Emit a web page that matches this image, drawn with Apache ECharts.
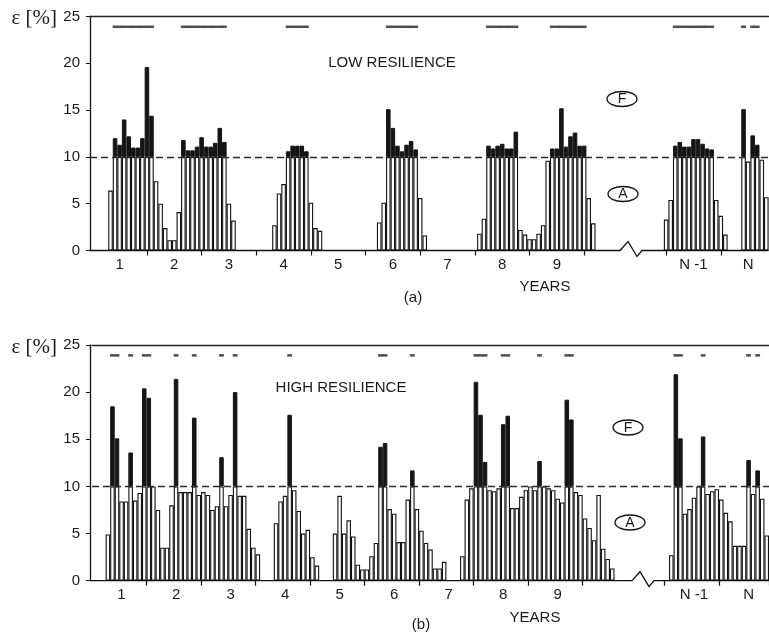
<!DOCTYPE html>
<html>
<head>
<meta charset="utf-8">
<title>Strain, low and high resilience</title>
<script src="https://cdn.jsdelivr.net/npm/echarts@6/dist/echarts.min.js"></script>
<style>
  html, body { margin: 0; padding: 0; background: #fff; overflow: hidden; }
  #chart { width: 769px; height: 636px; }
</style>
</head>
<body>
<div id="chart"></div>
<script>
// x axis = months: years 1..9, a break, then years N-1 and N
const monthCount = 149;
const yearLabels = ['1', '2', '3', '4', '5', '6', '7', '8', '9', 'N -1', 'N'];
const yearStarts = [0, 12, 24, 36, 48, 60, 72, 84, 96, 126, 138];
const yearTicks = [12, 24, 36, 48, 60, 72, 84, 96, 108, 126, 138];
const yTicks = [0, 25, 5]; // min, max, step
const threshold = 10;      // ε limit, above it the bar is black
const failLevel = 23.9;    // failure periods are marked at the top

// (a) low resilience: runs of monthly ε [%] and the month each run starts on
const lowStarts = [4, 40, 63, 85, 126, 143];
const low1 = [6.4, 12.0, 11.3, 14.0, 12.2, 11.0, 11.0, 12.0, 19.6, 14.4, 7.4, 5.0, 2.4, 1.1, 1.1,
  4.1, 11.8, 10.7, 10.7, 11.1, 12.1, 11.1, 11.1, 11.5, 13.1, 11.6, 5.0, 3.2];
const low2 = [2.7, 6.1, 7.1, 10.6, 11.2, 11.2, 11.2, 10.6, 5.1, 2.4, 2.1];
const low3 = [3.0, 5.1, 15.1, 13.1, 11.2, 10.6, 11.3, 11.7, 10.8, 5.6, 1.6];
const low4 = [1.8, 3.4, 11.2, 10.9, 11.2, 11.4, 10.9, 10.9, 12.7, 2.2, 1.7, 1.2, 1.2, 1.8, 2.7,
  9.6, 10.9, 10.9, 15.2, 11.1, 12.2, 12.6, 11.2, 11.2, 5.6, 2.9];
const low5 = [3.3, 5.4, 11.2, 11.6, 11.1, 11.1, 11.9, 11.9, 11.4, 10.9, 10.8, 5.4, 3.7, 1.7];
const low6 = [15.1, 9.5, 12.3, 11.3, 9.7, 5.7];

// (b) high resilience
const highStarts = [3, 40, 53, 81, 127];
const high1 = [4.9, 18.5, 15.1, 8.4, 8.4, 13.6, 8.5, 9.3, 20.4, 19.4, 10.0, 7.5, 3.5, 3.5, 8.0,
  21.4, 9.4, 9.4, 9.4, 17.3, 9.1, 9.4, 9.1, 7.5, 7.9, 13.1, 7.9, 9.1, 20.0, 9.0, 9.0, 5.5, 3.5, 2.8];
const high2 = [6.1, 8.4, 9.0, 17.6, 9.6, 7.4, 5.0, 5.4, 2.5, 1.6];
const high3 = [5.0, 9.0, 5.0, 6.4, 4.7, 1.7, 1.2, 1.2, 2.6, 4.0, 14.2, 14.6, 7.6, 7.1, 4.1, 4.1,
  8.6, 11.7, 7.6, 5.3, 4.0, 3.3, 1.3, 1.3, 2.0];
const high4 = [2.6, 8.6, 9.8, 21.1, 17.6, 12.6, 9.6, 9.5, 9.8, 16.6, 17.5, 7.7, 7.7, 8.9, 9.6, 10.0,
  9.6, 12.7, 10.0, 9.8, 9.6, 8.7, 8.3, 19.2, 17.1, 9.4, 9.1, 6.6, 5.6, 4.3, 9.1, 3.4, 2.3, 1.3];
const high5 = [2.7, 21.9, 15.1, 7.1, 7.6, 8.8, 10.0, 15.3, 9.2, 9.5, 9.7, 8.6, 7.2, 6.3, 3.7, 3.7,
  3.7, 12.8, 9.2, 11.7, 8.7, 4.8];

const panels = [
  { starts: lowStarts, runs: [low1, low2, low3, low4, low5, low6],
    grid: { left: 90, top: 16.5, width: 678.6, height: 234 }, yOffset: 0, alignTicks: true,
    title: 'LOW RESILIENCE', titlePos: [392, 63], tag: '(a)', tagPos: [413, 298], yearsPos: [545, 287],
    fPos: [622, 99], aPos: [623, 194], breakX: 620 },
  { starts: highStarts, runs: [high1, high2, high3, high4, high5],
    grid: { left: 92, top: 345, width: 678.6, height: 235.7 }, yOffset: 2, alignTicks: false,
    title: 'HIGH RESILIENCE', titlePos: [341, 388], tag: '(b)', tagPos: [421, 625], yearsPos: [535, 618],
    fPos: [628, 427.5], aPos: [630, 522.5], breakX: 632 }
];

function monthly(starts, runs) {
  const out = new Array(monthCount).fill(null);
  runs.forEach((run, r) => run.forEach((v, i) => { out[starts[r] + i] = v; }));
  return out;
}

const months = Array.from({ length: monthCount }, (_, i) => 'm' + i);
const labelAt = {};
yearStarts.forEach((s, k) => { labelAt[s + 6] = yearLabels[k]; });

const font = 'Liberation Sans, Arial, sans-serif';
const ink = '#111';

const grids = [], xAxes = [], yAxes = [], series = [];
panels.forEach((p, i) => {
  const values = monthly(p.starts, p.runs);
  grids.push(p.grid);
  xAxes.push({
    type: 'category', gridIndex: i, data: months, boundaryGap: true,
    axisLine: { show: false },
    axisTick: {
      show: true, alignWithLabel: p.alignTicks, length: 5,
      interval: (idx) => yearTicks.includes(idx),
      lineStyle: { color: ink, width: 1.2 }
    },
    axisLabel: {
      interval: (idx) => labelAt[idx] !== undefined,
      formatter: (v, idx) => labelAt[idx] || '',
      fontSize: 15, color: '#1a1a1a', fontFamily: font, margin: 7
    },
    splitLine: { show: false }
  });
  // top frame line
  xAxes.push({
    type: 'value', gridIndex: i, position: 'top', min: 0, max: 1,
    axisLine: { show: true, onZero: false, lineStyle: { color: '#222', width: 1.3 } },
    axisTick: { show: false }, axisLabel: { show: false }, splitLine: { show: false }
  });
  yAxes.push({
    type: 'value', gridIndex: i, min: yTicks[0], max: yTicks[1], interval: yTicks[2], offset: p.yOffset,
    axisLine: { show: true, onZero: false, lineStyle: { color: ink, width: 1.3 } },
    axisTick: { show: true, length: 4, lineStyle: { color: ink } },
    axisLabel: { fontSize: 15, color: '#1a1a1a', fontFamily: font, margin: 10 },
    splitLine: { show: false }
  });
  series.push({
    name: 'A', type: 'bar', xAxisIndex: i * 2, yAxisIndex: i, stack: 'eps' + i,
    barCategoryGap: '0%',
    data: values.map(v => v == null ? '-' : Math.min(v, threshold)),
    itemStyle: { color: '#fff', borderColor: ink, borderWidth: 1.1 },
    markLine: {
      silent: true, symbol: ['none', 'none'], label: { show: false },
      lineStyle: { color: '#2a2a2a', type: [7, 4], width: 1.3 },
      data: [{ yAxis: threshold }]
    }
  });
  series.push({
    name: 'F', type: 'bar', xAxisIndex: i * 2, yAxisIndex: i, stack: 'eps' + i,
    barCategoryGap: '0%',
    data: values.map(v => v != null && v > threshold ? +(v - threshold).toFixed(2) : '-'),
    itemStyle: { color: '#151515', borderColor: '#151515', borderWidth: 1 }
  });
  // failure periods shown as short bars at the top
  const fails = [];
  values.forEach((v, m) => { if (v != null && v > threshold) fails.push([m, failLevel]); });
  series.push({
    type: 'scatter', xAxisIndex: i * 2, yAxisIndex: i, silent: true,
    symbol: 'rect', symbolSize: [p.grid.width / monthCount + 0.3, 2.5],
    itemStyle: { color: '#222' },
    data: fails
  });
});

function panelGraphics(p, i) {
  const g = p.grid;
  const y0 = g.top + g.height;
  const x0 = g.left - p.yOffset, x1 = g.left + g.width, b = p.breakX;
  const out = [];
  out.push({
    type: 'polyline', z: 10,
    shape: { points: [[x0, y0], [b, y0], [b + 8, y0 - 9], [b + 17, y0 + 6], [b + 22, y0], [x1, y0]] },
    style: { stroke: ink, lineWidth: 1.3, fill: null }
  });
  const txt = (s, pos, size, fam, align) => ({
    type: 'text', x: pos[0], y: pos[1], z: 10,
    style: { text: s, font: size + 'px ' + fam, fill: '#1a1a1a', align: align || 'center', verticalAlign: 'middle' }
  });
  out.push(txt('ε [%]', [57, g.top + 2], 21, 'Liberation Serif, serif', 'right'));
  out.push(txt(p.title, p.titlePos, 15, font));
  out.push(txt('YEARS', p.yearsPos, 15, font));
  out.push(txt(p.tag, p.tagPos, 15, font));
  [['F', p.fPos], ['A', p.aPos]].forEach(([s, pos]) => {
    out.push({
      type: 'ellipse', z: 10,
      shape: { cx: pos[0], cy: pos[1], rx: 15, ry: 7.5 },
      style: { fill: '#fff', stroke: ink, lineWidth: 1.3 }
    });
    out.push(txt(s, [pos[0], pos[1] + 0.5], 14, font));
  });
  return out;
}

const chart = echarts.init(document.getElementById('chart'));
chart.setOption({
  animation: false,
  backgroundColor: '#fff',
  grid: grids,
  xAxis: xAxes,
  yAxis: yAxes,
  series: series,
  graphic: panels.flatMap(panelGraphics)
});
</script>
</body>
</html>
